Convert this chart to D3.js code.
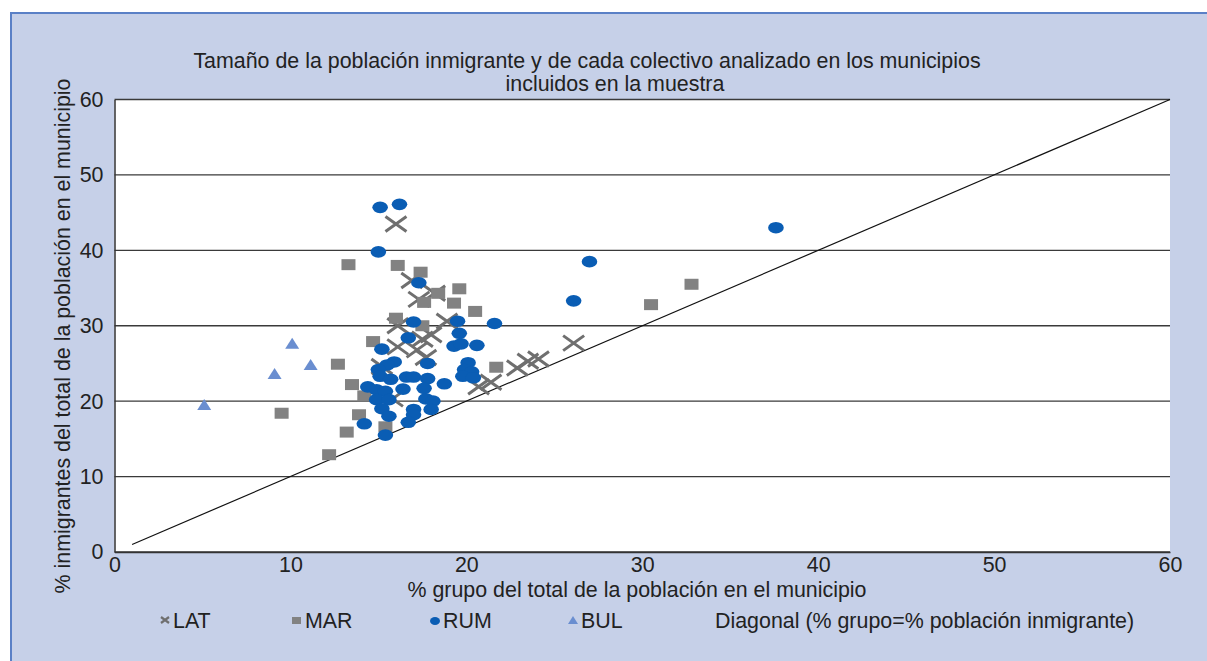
<!DOCTYPE html>
<html>
<head>
<meta charset="utf-8">
<script src="https://cdn.jsdelivr.net/npm/d3@7"></script>
<style>
  body { margin: 0; background: #fff; }
  svg { display: block; font-family: "Liberation Sans", Arial, sans-serif; }
</style>
</head>
<body>
<svg id="chart"></svg>
<script>
// data: [% grupo, % inmigrantes]
const lat = [
  [15.2, 24.6], [15.8, 20.3], [16.0, 43.5], [16.1, 30.0], [16.1, 27.2],
  [16.9, 36.0], [17.3, 33.5], [18.2, 34.3], [17.5, 28.2], [17.2, 26.8],
  [17.7, 25.8], [18.0, 28.8], [18.9, 30.6], [20.7, 21.9], [21.4, 22.5],
  [22.9, 24.4], [23.5, 25.3], [24.1, 25.6], [26.1, 27.7]
];
const mar = [
  [9.5, 18.4], [12.2, 12.9], [12.7, 24.9], [13.2, 15.9], [13.3, 38.1],
  [13.5, 22.2], [13.9, 18.2], [14.2, 20.7], [14.7, 27.9], [15.4, 16.6],
  [16.0, 31.0], [16.1, 38.0], [17.4, 37.1], [17.5, 30.0], [17.6, 33.1],
  [18.4, 34.3], [19.3, 33.0], [19.6, 34.9], [20.5, 31.9], [21.7, 24.5],
  [30.5, 32.8], [32.8, 35.5]
];
const rum = [
  [15.1, 45.7], [16.2, 46.1], [15.0, 39.8], [37.6, 43.0], [27.0, 38.5],
  [26.1, 33.3], [17.3, 35.7], [21.6, 30.3], [17.0, 30.5], [19.5, 30.6],
  [16.7, 28.4], [15.2, 26.9], [19.6, 29.0], [19.3, 27.3], [19.7, 27.6],
  [20.6, 27.4], [15.9, 25.2], [15.5, 24.8], [15.0, 24.2], [15.1, 23.3],
  [15.7, 22.9], [16.6, 23.2], [17.0, 23.2], [17.8, 25.0], [17.8, 23.0],
  [18.75, 22.3], [14.4, 21.9], [14.9, 21.5], [15.4, 21.3], [16.4, 21.6],
  [17.6, 21.7], [14.9, 20.2], [15.6, 20.2], [17.7, 20.3], [18.1, 20.0],
  [15.2, 19.0], [15.6, 18.0], [17.0, 18.9], [18.0, 18.9], [17.0, 18.2],
  [14.2, 17.0], [16.7, 17.2], [15.4, 15.5], [20.1, 25.1], [19.9, 24.2],
  [20.3, 23.9], [19.8, 23.3], [20.4, 23.1]
];
const bul = [[5.1, 19.5], [9.1, 23.6], [10.1, 27.6], [11.15, 24.8]];
const diagonal = [[1, 1], [60, 60]];
const ticks = [0, 10, 20, 30, 40, 50, 60];

const width = 1207;
const height = 661;
const plot = { left: 114.5, right: 1170, top: 99.5, bottom: 552 };
const fontSize = 21.4;

const svg = d3.select("#chart").attr("width", width).attr("height", height);

// background panel
svg.append("rect")
  .attr("x", 10).attr("y", 12)
  .attr("width", width - 10).attr("height", height - 12)
  .attr("fill", "#c6d0e8");
svg.append("path")
  .attr("d", `M11,${height} V13 H${width}`)
  .attr("fill", "none")
  .attr("stroke", "#5a80c6")
  .attr("stroke-width", 2);

const x = d3.scaleLinear().domain([0, 60]).range([plot.left, plot.right]);
const y = d3.scaleLinear().domain([0, 60]).range([plot.bottom, plot.top]);

// plot area
svg.append("rect")
  .attr("x", plot.left).attr("y", plot.top)
  .attr("width", plot.right - plot.left).attr("height", plot.bottom - plot.top)
  .attr("fill", "#fff");

// grid lines
svg.append("g")
  .selectAll("line")
  .data(ticks)
  .enter()
  .append("line")
  .attr("x1", plot.left).attr("x2", plot.right)
  .attr("y1", d => y(d)).attr("y2", d => y(d))
  .attr("stroke", "#3a3a3a")
  .attr("stroke-width", 1.3);

// axes
const xAxis = d3.axisBottom(x).tickValues(ticks).tickSize(0).tickPadding(5);
const yAxis = d3.axisLeft(y).tickValues(ticks).tickSize(0).tickPadding(11);

const gx = svg.append("g")
  .attr("transform", "translate(0," + plot.bottom + ")")
  .call(xAxis);
gx.select(".domain").attr("stroke", "#333").attr("stroke-width", 1.3);

const gy = svg.append("g")
  .attr("transform", "translate(" + plot.left + ",0)")
  .call(yAxis);
gy.select(".domain").attr("stroke", "#333").attr("stroke-width", 1.5);

svg.selectAll(".tick text")
  .attr("font-size", fontSize)
  .attr("fill", "#222")
  .attr("font-family", "Liberation Sans, Arial, sans-serif");

// diagonal
svg.append("line")
  .attr("x1", x(diagonal[0][0])).attr("y1", y(diagonal[0][1]))
  .attr("x2", x(diagonal[1][0])).attr("y2", y(diagonal[1][1]))
  .attr("stroke", "#111")
  .attr("stroke-width", 1.2);

// LAT crosses
svg.append("g")
  .selectAll("path")
  .data(lat)
  .enter()
  .append("path")
  .attr("transform", d => `translate(${x(d[0])},${y(d[1])})`)
  .attr("d", "M-10.5,-7.5L10.5,7.5M-10.5,7.5L10.5,-7.5")
  .attr("stroke", "#6f6f6f")
  .attr("stroke-width", 3);

// MAR squares
svg.append("g")
  .selectAll("rect")
  .data(mar)
  .enter()
  .append("rect")
  .attr("x", d => x(d[0]) - 7)
  .attr("y", d => y(d[1]) - 5.5)
  .attr("width", 14)
  .attr("height", 11)
  .attr("fill", "#828282");

// RUM ellipses
svg.append("g")
  .selectAll("ellipse")
  .data(rum)
  .enter()
  .append("ellipse")
  .attr("cx", d => x(d[0]))
  .attr("cy", d => y(d[1]))
  .attr("rx", 7.8)
  .attr("ry", 5.8)
  .attr("fill", "#0a5db4");

// BUL triangles
svg.append("g")
  .selectAll("path")
  .data(bul)
  .enter()
  .append("path")
  .attr("transform", d => `translate(${x(d[0])},${y(d[1])})`)
  .attr("d", "M0,-6L7,5H-7Z")
  .attr("fill", "#6a8ed0");

// titles
const title = svg.append("g")
  .attr("font-size", fontSize)
  .attr("fill", "#222");
title.append("text")
  .attr("x", 587).attr("y", 68)
  .attr("text-anchor", "middle")
  .text("Tamaño de la población inmigrante y de cada colectivo analizado en los municipios");
title.append("text")
  .attr("x", 615).attr("y", 91)
  .attr("text-anchor", "middle")
  .text("incluidos en la muestra");

svg.append("text")
  .attr("x", 637).attr("y", 597)
  .attr("text-anchor", "middle")
  .attr("font-size", fontSize)
  .attr("fill", "#222")
  .text("% grupo del total de la población en el municipio");

svg.append("text")
  .attr("transform", "translate(70,336) rotate(-90)")
  .attr("text-anchor", "middle")
  .attr("font-size", fontSize)
  .attr("fill", "#222")
  .text("% inmigrantes del total de la población en el municipio");

// legend
const legend = svg.append("g").attr("font-size", fontSize).attr("fill", "#222");
const ly = 621;
legend.append("path")
  .attr("d", `M161,${ly - 4}L169,${ly + 2}M161,${ly + 2}L169,${ly - 4}`)
  .attr("stroke", "#6f6f6f").attr("stroke-width", 2.2);
legend.append("text").attr("x", 173).attr("y", ly + 7).text("LAT");
legend.append("rect")
  .attr("x", 292).attr("y", ly - 4).attr("width", 9).attr("height", 7)
  .attr("fill", "#828282");
legend.append("text").attr("x", 305).attr("y", ly + 7).text("MAR");
legend.append("ellipse")
  .attr("cx", 435).attr("cy", ly).attr("rx", 5).attr("ry", 4)
  .attr("fill", "#0a5db4");
legend.append("text").attr("x", 443).attr("y", ly + 7).text("RUM");
legend.append("path")
  .attr("d", `M573,${ly - 5}L578,${ly + 3}H568Z`)
  .attr("fill", "#6a8ed0");
legend.append("text").attr("x", 581).attr("y", ly + 7).text("BUL");
legend.append("text").attr("x", 715).attr("y", ly + 7)
  .text("Diagonal (% grupo=% población inmigrante)");
</script>
</body>
</html>
